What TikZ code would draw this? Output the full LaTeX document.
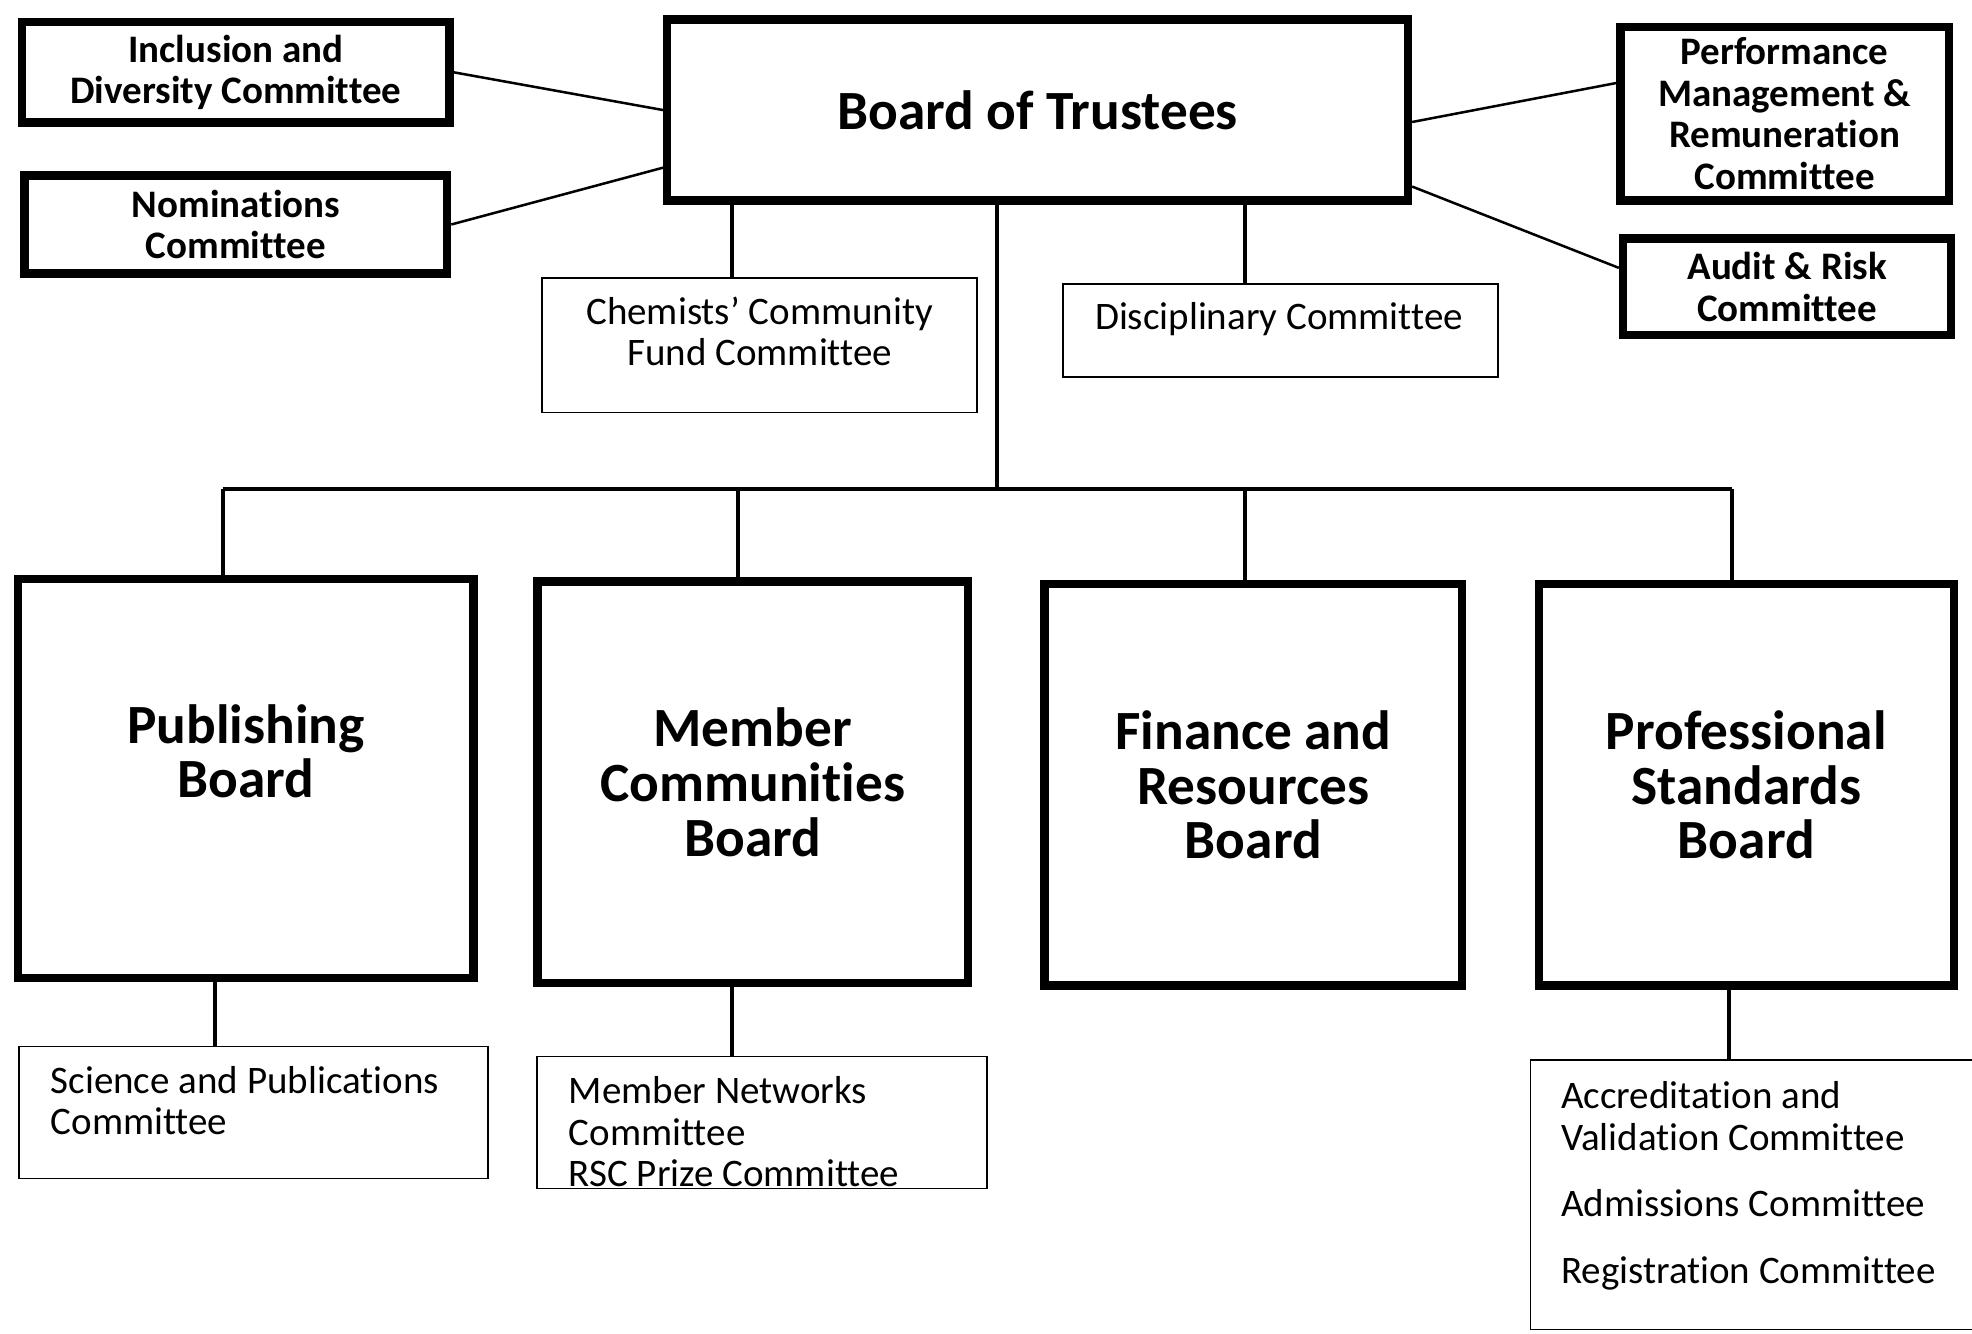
\documentclass[tikz,border=0pt]{standalone}
\usepackage{fontspec}
\setmainfont{Carlito}[RawFeature={-liga;-clig;-calt;-dlig}]
\begin{document}
\begin{tikzpicture}[x=0.6pt,y=-0.6pt,
  bigbox/.style={draw,line width=4pt,inner sep=0pt,align=center,font=\bfseries\fontsize{26.4pt}{26.1pt}\selectfont},
  combox/.style={draw,line width=4pt,inner sep=0pt,align=center,font=\bfseries\fontsize{18.6pt}{19.8pt}\selectfont},
  thinbox/.style={draw,line width=0.8pt,inner sep=0pt},
  boxtext/.style={inner sep=0pt,font=\fontsize{18.6pt}{19.8pt}\selectfont},
  vline/.style={line width=2pt},
  sideline/.style={line width=1.2pt}]
\useasboundingbox (0,0) rectangle (1568,1060);
% top row
\node[bigbox,minimum width=353.4pt,minimum height=86.4pt] (board) at (825,87.5) {Board of Trustees};
\node[combox,minimum width=204pt,minimum height=48pt] (incl) at (187.5,57.5) {Inclusion and\\Diversity Committee};
\node[combox,minimum width=201.6pt,minimum height=46.8pt] (nom) at (187.5,178.5) {Nominations\\Committee};
\node[combox,minimum width=156.6pt,minimum height=82.8pt] (perf) at (1419,90.5) {Performance\\Management \&\\Remuneration\\Committee};
\node[combox,minimum width=156.6pt,minimum height=46.2pt] (audit) at (1421,228) {Audit \& Risk\\Committee};
\draw[sideline] (incl.east) -- (board.west);
\draw[sideline] (nom.east) -- ([yshift=17.7pt]board.south west);
\draw[sideline] ([yshift=-5.7pt]board.east) -- ([yshift=14.7pt]perf.west);
\draw[sideline] ([yshift=8.7pt]board.south east) -- ([yshift=9pt]audit.west);
% committees under the board
\node[thinbox,minimum width=207.6pt,minimum height=64.2pt] (chem) at (604,274.5) {};
\node[boxtext,align=center] (chemtxt) at (604,263.5) {Chemists’ Community\\Fund Committee};
\node[thinbox,minimum width=207.6pt,minimum height=44.4pt] (disc) at (1018,263) {};
\node[boxtext] (disctxt) at (1017,254) {Disciplinary Committee};
\draw[vline] (582,0 |- board.south) -- (582,0 |- chem.north);
\draw[vline] (990,0 |- board.south) -- (990,0 |- disc.north);
% boards
\node[bigbox,minimum width=217.2pt,minimum height=190.2pt] (pub) at (195.5,619) {Publishing\\Board\\\mbox{}};
\node[bigbox,minimum width=205.2pt,minimum height=191.4pt] (mem) at (598.5,622) {Member\\Communities\\Board};
\node[bigbox,minimum width=199.2pt,minimum height=191.4pt] (fin) at (996.5,624) {Finance and\\Resources\\Board};
\node[bigbox,minimum width=198pt,minimum height=191.4pt] (pro) at (1388.5,624) {Professional\\Standards\\Board};
\coordinate (hub) at (793,389);
\draw[vline] (hub |- board.south) -- (hub);
\foreach \n/\x in {pub/177,mem/587,fin/990,pro/1377}{
  \coordinate (d\n) at (\x,389);
  \draw[vline] (d\n) -- (\x,0 |- \n.north);}
\draw[vline] (dpub) -- (dpro);
% committees under the boards
\node[thinbox,minimum width=223.8pt,minimum height=63pt] (sci) at (201.5,884.5) {};
\node[boxtext,align=left,anchor=west] (scitxt) at (40,875) {Science and Publications\\Committee};
\node[thinbox,minimum width=214.8pt,minimum height=63pt] (net) at (606,892.5) {};
\node[boxtext,align=left,anchor=west] (nettxt) at (452,900) {Member Networks\\Committee\\RSC Prize Committee};
\node[thinbox,minimum width=213pt,minimum height=128.4pt] (accr) at (1394.5,950) {};
\node[boxtext,align=left,anchor=west] (accrtxt) at (1241,943) {Accreditation and\\Validation Committee\\[12pt]Admissions Committee\\[12pt]Registration Committee};
\foreach \n/\m/\x in {pub/sci/171,mem/net/582,pro/accr/1375}
  \draw[vline] (\x,0 |- \n.south) -- (\x,0 |- \m.north);
\end{tikzpicture}
\end{document}
